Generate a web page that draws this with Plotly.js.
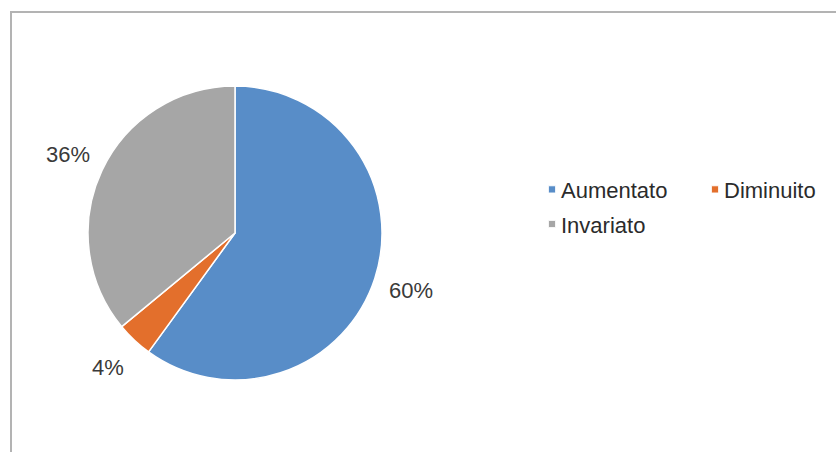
<!DOCTYPE html>
<html>
<head>
<meta charset="utf-8">
<script src="https://cdn.plot.ly/plotly-3.0.1.min.js"></script>
<style>html,body{margin:0;padding:0;background:#fff;}#chart{width:836px;height:452px;}</style>
</head>
<body>
<div id="chart"></div>
<script>
const categories = ["Aumentato", "Diminuito", "Invariato"];
const values = [60, 4, 36];
const colors = ["#588dc8", "#e36f2c", "#a6a6a6"];

const W = 836, H = 452;
const ML = 0, MR = 315;            // plot area = left part; legend sits to its right
const PW = W - ML - MR;
const FONT = "Liberation Sans, Arial, Helvetica, sans-serif";

// pie placement (pixels)
const pieLeft = 88, pieTop = 86, pieSize = 294;
const cx = pieLeft + pieSize / 2, cy = pieTop + pieSize / 2;
const labelDist = 185;
const px2x = (px) => (px - ML) / PW;
const py2y = (py) => 1 - py / H;

const total = values.reduce((a, b) => a + b, 0);
let cum = 0;
const annotations = values.map((v) => {
  const mid = (cum + v / 2) / total * 2 * Math.PI;
  cum += v;
  return {
    xref: "paper", yref: "paper",
    x: px2x(cx + labelDist * Math.sin(mid)),
    y: py2y(cy - labelDist * Math.cos(mid)),
    xanchor: "center", yanchor: "middle",
    text: Math.round(v / total * 100) + "%",
    showarrow: false,
    font: { family: FONT, size: 22, color: "#3a3a3a" }
  };
});

const trace = {
  type: "pie",
  labels: categories,
  values: values,
  sort: false,
  direction: "clockwise",
  rotation: 0,
  marker: { colors: colors, line: { color: "#ffffff", width: 1.5 } },
  textinfo: "none",
  hoverinfo: "label+percent",
  domain: { x: [px2x(pieLeft), px2x(pieLeft + pieSize)], y: [py2y(pieTop + pieSize), py2y(pieTop)] }
};

const layout = {
  width: W,
  height: H,
  margin: { l: ML, r: MR, t: 0, b: 0, autoexpand: false },
  paper_bgcolor: "#ffffff",
  plot_bgcolor: "rgba(0,0,0,0)",
  showlegend: true,
  legend: {
    orientation: "h",
    x: 1,
    y: 0.627,
    xanchor: "left",
    yanchor: "top",
    entrywidth: 118,
    traceorder: "normal",
    bgcolor: "rgba(0,0,0,0)",
    font: { family: FONT, size: 22, color: "#2b2b2b" },
    itemwidth: 30
  },
  annotations: annotations,
  shapes: [{
    type: "rect", xref: "paper", yref: "paper",
    x0: px2x(11), x1: px2x(W + 20), y0: -0.1, y1: py2y(12),
    line: { color: "#b3b3b3", width: 2 }, fillcolor: "rgba(0,0,0,0)"
  }]
};

Plotly.newPlot("chart", [trace], layout, { staticPlot: true }).then(() => {
  document.querySelectorAll(".legend path.legendpie").forEach((p) => {
    p.setAttribute("transform", "translate(31,0) scale(0.6)");
  });
  const sb = document.querySelector(".legend .scrollbox");
  if (sb) sb.removeAttribute("clip-path");
  const items = document.querySelectorAll(".legend g.traces");
  if (items.length === 3) {
    const t = items[2].getAttribute("transform") || "";
    const m = t.match(/translate\(\s*([-\d.]+)[ ,]+([-\d.]+)\s*\)/);
    if (m) items[2].setAttribute("transform", "translate(" + m[1] + "," + (parseFloat(m[2]) + 3) + ")");
  }
});
</script>
</body>
</html>
